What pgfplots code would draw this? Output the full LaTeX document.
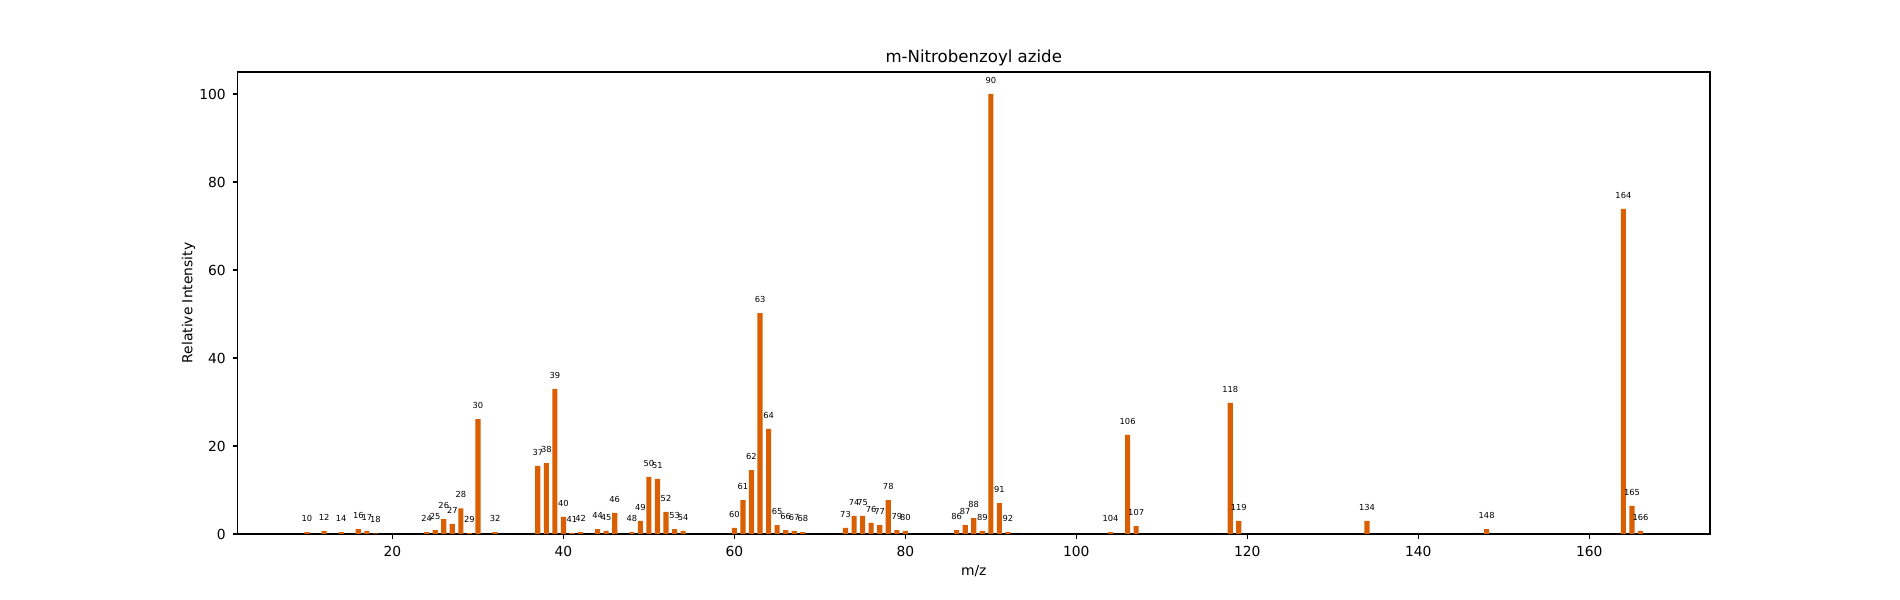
\documentclass[border=0pt]{standalone}
\usepackage{pgfplots}
\pgfplotsset{compat=1.18}
\usepackage{fontspec}
\setmainfont{DejaVu Sans}
\definecolor{barorange}{RGB}{217,95,2}
\pgfplotstableread{
x y
10 0.45
12 0.7
14 0.45
16 1.1
17 0.7
18 0.15
24 0.45
25 0.9
26 3.4
27 2.3
28 5.8
29 0.2
30 26.1
32 0.45
37 15.5
38 16.1
39 33.0
40 3.9
41 0.25
42 0.45
44 1.1
45 0.7
46 4.8
48 0.45
49 3.0
50 13.0
51 12.5
52 5.0
53 1.1
54 0.7
60 1.4
61 7.7
62 14.5
63 50.2
64 23.9
65 2.0
66 0.9
67 0.7
68 0.45
73 1.4
74 4.1
75 4.1
76 2.5
77 2.0
78 7.7
79 0.9
80 0.7
86 0.9
87 2.0
88 3.6
89 0.7
90 100
91 7.0
92 0.45
104 0.45
106 22.5
107 1.8
118 29.8
119 3.0
134 3.0
148 1.1
164 73.9
165 6.4
166 0.7
}\spectrum
\begin{document}
\begin{tikzpicture}
\begin{axis}[
  scale only axis,
  width=14.725in, height=4.62in,
  xmin=1.87, xmax=174.13,
  ymin=0, ymax=105,
  xtick={20,40,60,80,100,120,140,160},
  ytick={0,20,40,60,80,100},
  tick align=outside,
  xtick pos=bottom, ytick pos=left,
  major tick length=3.5bp,
  every tick/.style={black, line width=0.8bp},
  axis line style={line width=0.8bp},
  tick label style={font=\fontsize{10}{12}\selectfont},
  /pgf/number format/assume math mode=true,
  xticklabel style={yshift=-1.5bp},
  yticklabel style={xshift=-1.5bp},
  every axis title shift=0pt,
  title={m-Nitrobenzoyl azide},
  title style={at={(axis description cs:0.5,1)}, anchor=base, yshift=6.8pt, font=\fontsize{12}{14}\selectfont},
  xlabel={m/z},
  xlabel style={at={(axis description cs:0.5,0)}, anchor=north, yshift=-22.4pt, inner sep=0pt, font=\fontsize{10}{12}\selectfont},
  ylabel={Relative Intensity},
  ylabel style={at={(axis description cs:-0.02846,0.5)}, rotate=0, anchor=south, inner sep=0pt, font=\fontsize{10}{12}\selectfont},
]
\addplot[ybar, bar width=0.6, bar shift=0pt, fill=barorange, draw=none,
  point meta=x,
  nodes near coords={\pgfmathprintnumber[int detect]{\pgfplotspointmeta}},
  nodes near coords style={anchor=base, yshift=7.8pt, inner sep=0pt, font=\fontsize{6}{7}\selectfont, text=black},
] table[x=x, y=y] {\spectrum};
\end{axis}
\pgfresetboundingbox
\useasboundingbox (-2.375in,-0.66in) rectangle (16.625in,5.34in);
\end{tikzpicture}
\end{document}
